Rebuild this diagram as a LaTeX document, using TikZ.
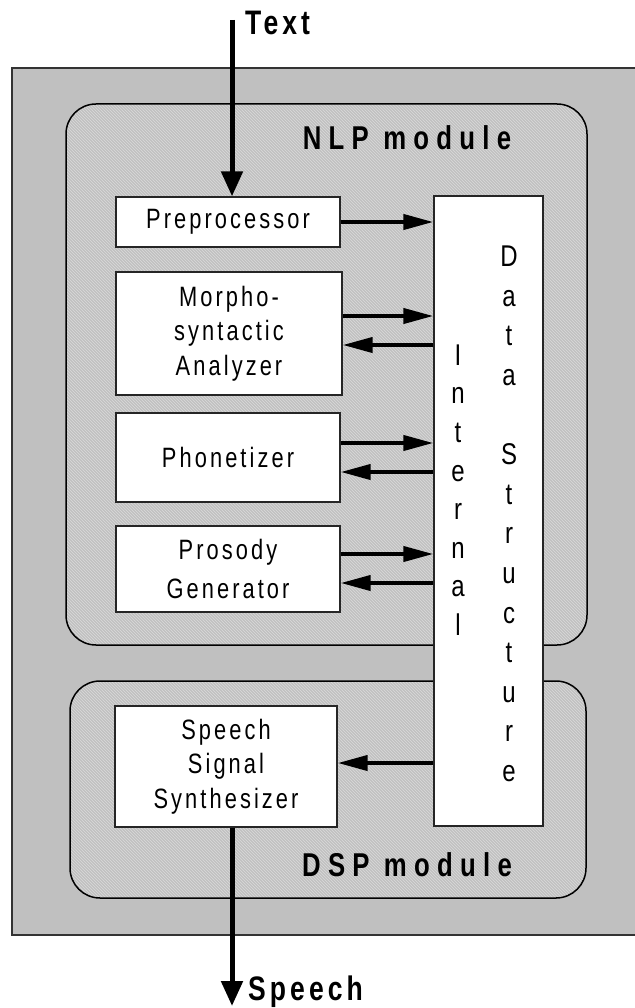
\documentclass[tikz,border=0pt]{standalone}
\usepackage{fontspec}
\setmainfont{Liberation Sans}
\newfontfamily\boxfont[FakeStretch=0.78,LetterSpace=11]{Liberation Sans}
\newfontfamily\headfont[FakeStretch=0.78,LetterSpace=22]{Liberation Sans}
\newfontfamily\iofont[FakeStretch=0.78,LetterSpace=12]{Liberation Sans}
\newfontfamily\stackfont[FakeStretch=0.8]{Liberation Sans}
\usetikzlibrary{arrows.meta, patterns, positioning}
\definecolor{PanelGray}{HTML}{C0C0C0}
\definecolor{HatchGray}{HTML}{DADADA}

\tikzset{
  module/.style={draw=black, line width=1.5pt, rounded corners=30pt,
    preaction={fill=PanelGray}, pattern=north west lines, pattern color=HatchGray},
  procbox/.style={draw=black!85, line width=1.3pt, fill=white, inner sep=0pt,
    align=center, font=\boxfont\fontsize{28pt}{34.5pt}\selectfont},
  flow/.style={line width=4pt, -{Triangle[length=30pt,width=15pt]}},
  io/.style={line width=5pt, -{Triangle[length=25pt,width=21pt]}},
  headlabel/.style={font=\headfont\bfseries\fontsize{33pt}{36pt}\selectfont, anchor=base, inner sep=0pt},
  iolabel/.style={font=\iofont\bfseries\fontsize{34pt}{36pt}\selectfont, anchor=base west, inner sep=0pt}
}

\begin{document}
\begin{tikzpicture}[x=1pt, y=-1pt]

    \useasboundingbox (0,0) rectangle (634,1008);

    % === frame and the two modules ===
    \draw[line width=1.5pt, draw=black!80, fill=PanelGray] (12,68) rectangle (700,935);
    \draw[module] (66,104) rectangle (587,645);
    \draw[module] (70,681) rectangle (586,898);
    \node[headlabel] (nlp) at (407,150) {NLP module};
    \node[headlabel] (dsp) at (407,876) {DSP module};

    % === processing blocks ===
    \node[procbox, minimum width=224pt, minimum height=50pt] (pre) at (228,222) {Preprocessor};
    \node[procbox, minimum width=226pt, minimum height=123pt] (mor) at (229,333.5) {Morpho-\\syntactic\\Analyzer};
    \node[procbox, minimum width=224pt, minimum height=89pt] (pho) at (228,457.5) {Phonetizer};
    \node[procbox, minimum width=224pt, minimum height=86pt] (pro) at (228,569) {Prosody\\[4pt]Generator};
    \node[procbox, minimum width=222pt, minimum height=121pt] (ssy) at (226,766.5) {Speech\\Signal\\Synthesizer};

    % === internal data structure ===
    \node[procbox, minimum width=109pt, minimum height=630pt] (ids) at (488.5,511) {};
    \node[align=center, font=\stackfont\fontsize{30pt}{38.6pt}\selectfont] (intl) at (458,490)
        {I\\n\\t\\e\\r\\n\\a\\l};
    \node[align=center, font=\stackfont\fontsize{30pt}{39.6pt}\selectfont] (dstr) at (509,514)
        {D\\a\\t\\a\\~\\S\\t\\r\\u\\c\\t\\u\\r\\e};

    % === in and out ===
    \coordinate (txtin) at (232,20);
    \coordinate (spout) at (232,1006);
    \node[iolabel] (txtlab) at (245,35) {Text};
    \node[iolabel] (splab) at (248,1000) {Speech};
    \draw[io] (txtin) -- (txtin |- pre.north);
    \draw[io] (spout |- ssy.south) -- (spout);

    % === arrows to and from the data structure ===
    \path ([yshift=17.5pt]mor.east) coordinate (m1)
          ([yshift=-11.5pt]mor.east) coordinate (m2)
          ([yshift=14.5pt]pho.east) coordinate (p1)
          ([yshift=-14.5pt]pho.east) coordinate (p2)
          ([yshift=15pt]pro.east) coordinate (g1)
          ([yshift=-14pt]pro.east) coordinate (g2)
          ([yshift=3.5pt]ssy.east) coordinate (s1);
    \draw[flow] (pre.east) -- (pre.east -| ids.west);
    \draw[flow] (m1) -- (m1 -| ids.west);
    \draw[flow] (m2 -| ids.west) -- (m2);
    \draw[flow] (p1) -- (p1 -| ids.west);
    \draw[flow] (p2 -| ids.west) -- (p2);
    \draw[flow] (g1) -- (g1 -| ids.west);
    \draw[flow] (g2 -| ids.west) -- (g2);
    \draw[flow] (s1 -| ids.west) -- (s1);

\end{tikzpicture}
\end{document}
